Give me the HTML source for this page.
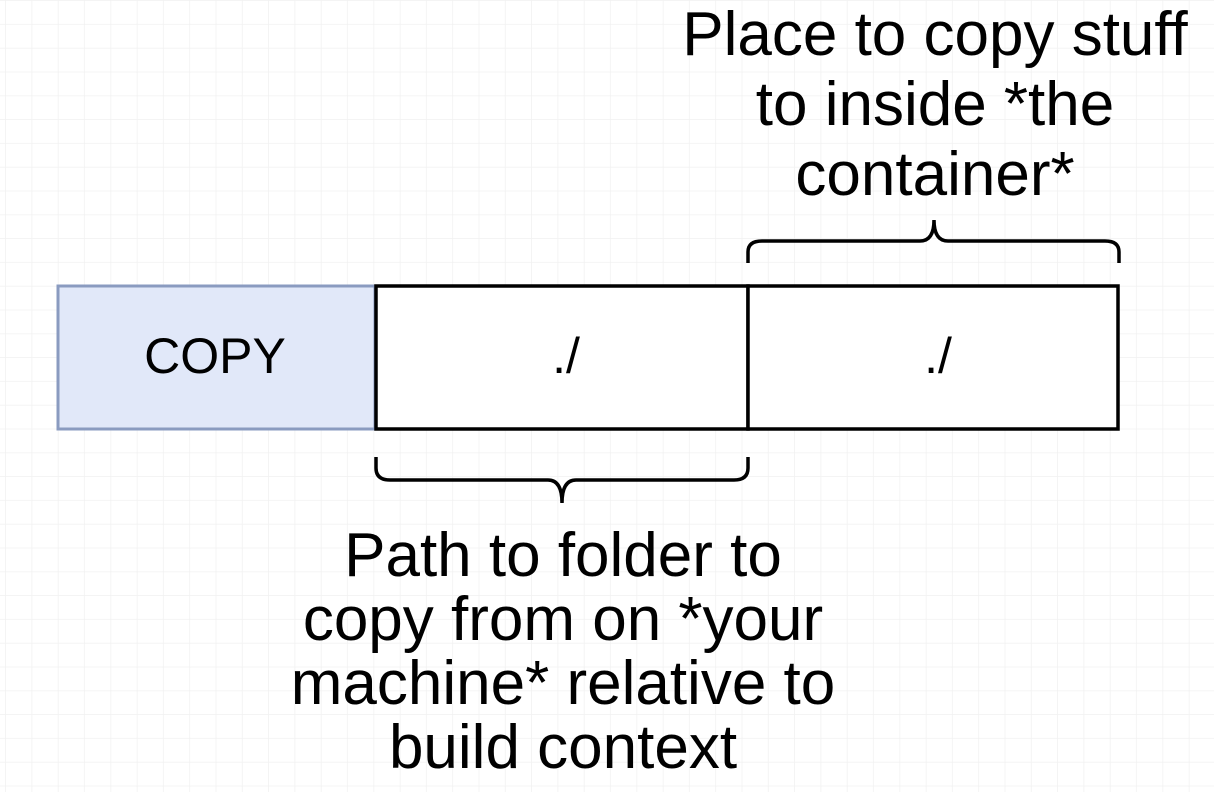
<!DOCTYPE html>
<html><head><meta charset="utf-8"><style>
html,body{margin:0;padding:0;background:#fff;}
svg{display:block;}
</style></head><body>
<svg width="1214" height="792" xmlns="http://www.w3.org/2000/svg">
<defs>
<pattern id="g" x="6" y="1" width="26.3" height="23.8" patternUnits="userSpaceOnUse">
<path d="M26.3 0V23.8M0 23.8H26.3" fill="none" stroke="#f1f1f1" stroke-width="1.5"/>
</pattern>
</defs>
<rect width="1214" height="792" fill="#fff"/>
<rect width="1214" height="792" fill="url(#g)"/>
<rect x="58" y="286" width="317" height="143" fill="#e1e8f9" stroke="#8a9bc0" stroke-width="3"/>
<rect x="376" y="286" width="372" height="143" fill="#fff" stroke="#000" stroke-width="3.5"/>
<rect x="748" y="286" width="370" height="143" fill="#fff" stroke="#000" stroke-width="3.5"/>
<g fill="none" stroke="#000" stroke-width="3.5">
<path d="M748 263V252Q748 241 762 241H920Q934 241 934 220Q934 241 948 241H1105Q1119 241 1119 252V263"/>
<path d="M376 457V468Q376 480 390 480H548Q562 480 562 503Q562 480 576 480H734Q748 480 748 468V457"/>
</g>
<g font-family="Liberation Sans, Arial, sans-serif" fill="#000" text-anchor="middle">
<text x="215" y="373" font-size="50">COPY</text>
<text x="566" y="373" font-size="50">./</text>
<text x="938" y="373" font-size="50">./</text>
<text x="935" y="55" font-size="62">Place to copy stuff</text>
<text x="935" y="125" font-size="62">to inside *the</text>
<text x="935" y="195" font-size="62">container*</text>
<text x="563" y="576" font-size="62">Path to folder to</text>
<text x="563" y="640" font-size="62">copy from on *your</text>
<text x="563" y="704" font-size="62">machine* relative to</text>
<text x="563" y="768" font-size="62">build context</text>
</g>
</svg>
</body></html>
